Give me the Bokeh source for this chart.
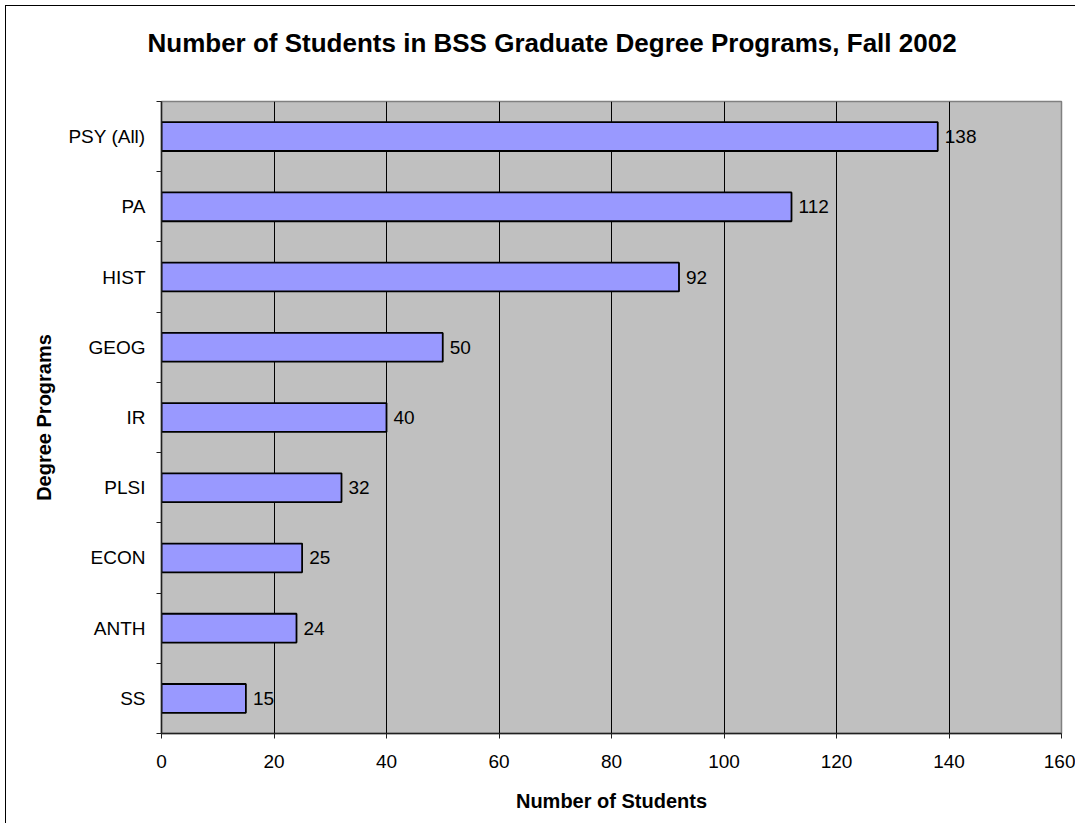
from bokeh.plotting import figure
from bokeh.models import ColumnDataSource, Range1d, FixedTicker, LabelSet, Title
from bokeh.core.properties import value
from bokeh.embed import file_html
from bokeh.resources import INLINE

# Data (top to bottom as shown)
programs = ["PSY (All)", "PA", "HIST", "GEOG", "IR", "PLSI", "ECON", "ANTH", "SS"]
students = [138, 112, 92, 50, 40, 32, 25, 24, 15]
x_ticks = [0, 20, 40, 60, 80, 100, 120, 140, 160]
title_text = "Number of Students in BSS Graduate Degree Programs, Fall 2002"

n = len(programs)
ypos = [n - i for i in range(n)]
src = ColumnDataSource(dict(y=ypos, v=students, lab=[str(s) for s in students], prog=programs))

FONT = "Liberation Sans"

p = figure(width=1070, height=818, output_backend="svg", toolbar_location=None,
           x_range=Range1d(0, 160), y_range=Range1d(0.5, n + 0.5),
           min_border_left=155, min_border_right=15, min_border_top=94, min_border_bottom=91)

# spacer between the frame and the title (closest to frame)
p.add_layout(Title(text=" ", text_font=FONT, text_font_size="10px", text_color="white",
                   standoff=12), "above")

p.title.text = title_text
p.title.align = "left"
p.title.text_font = FONT
p.title.text_font_size = "26px"
p.title.text_font_style = "bold"
p.title.text_color = "black"
p.title.standoff = 38
p.title.offset = -14

p.background_fill_color = "#C0C0C0"
p.border_fill_color = "white"
p.outline_line_color = "#808080"
p.outline_line_width = 1.5

p.hbar(y="y", right="v", left=0, height=0.41, source=src,
       fill_color="#9999FF", line_color="black", line_width=1.8)

labels = LabelSet(x="v", y="y", text="lab", source=src, x_offset=7,
                  text_baseline="middle", text_align="left",
                  text_font=value(FONT), text_font_size=value("19px"), text_color="black")
p.add_layout(labels)

# x axis
p.xaxis.ticker = FixedTicker(ticks=x_ticks)
p.xaxis.axis_label = "Number of Students"
p.xaxis.axis_label_text_font = FONT
p.xaxis.axis_label_text_font_size = "20px"
p.xaxis.axis_label_text_font_style = "bold"
p.xaxis.axis_label_text_color = "black"
p.xaxis.axis_label_standoff = 19
p.xaxis.major_label_text_font = FONT
p.xaxis.major_label_text_font_size = "19px"
p.xaxis.major_label_text_color = "black"
p.xaxis.major_label_standoff = 16
p.xaxis.major_tick_in = 0
p.xaxis.major_tick_out = 5
p.xaxis.minor_tick_line_color = None
p.xaxis.axis_line_color = "#202020"
p.xaxis.axis_line_width = 1.5
p.xaxis.major_tick_line_color = "#202020"

# y axis: labels at centers, ticks at boundaries
p.yaxis.ticker = FixedTicker(ticks=ypos, minor_ticks=[k + 0.5 for k in range(n + 1)])
p.yaxis.major_label_overrides = {y: name for y, name in zip(ypos, programs)}
p.yaxis.axis_label = "Degree Programs"
p.yaxis.axis_label_text_font = FONT
p.yaxis.axis_label_text_font_size = "20px"
p.yaxis.axis_label_text_font_style = "bold"
p.yaxis.axis_label_text_color = "black"
p.yaxis.axis_label_standoff = 10
p.yaxis.major_label_text_font = FONT
p.yaxis.major_label_text_font_size = "19px"
p.yaxis.major_label_text_color = "black"
p.yaxis.major_label_standoff = 11
p.yaxis.major_tick_line_color = None
p.yaxis.major_tick_in = 0
p.yaxis.major_tick_out = 5
p.yaxis.minor_tick_in = 0
p.yaxis.minor_tick_out = 5
p.yaxis.minor_tick_line_color = "#202020"
p.yaxis.axis_line_color = "#202020"
p.yaxis.axis_line_width = 1.5

p.xgrid.ticker = FixedTicker(ticks=x_ticks)
p.xgrid.grid_line_color = "black"
p.xgrid.grid_line_width = 1
p.ygrid.grid_line_color = None

p.styles = {"border-left": "1px solid black", "border-top": "1px solid black",
            "margin-left": "5px", "margin-top": "5px"}

open("out.html", "w").write(file_html(p, INLINE))
